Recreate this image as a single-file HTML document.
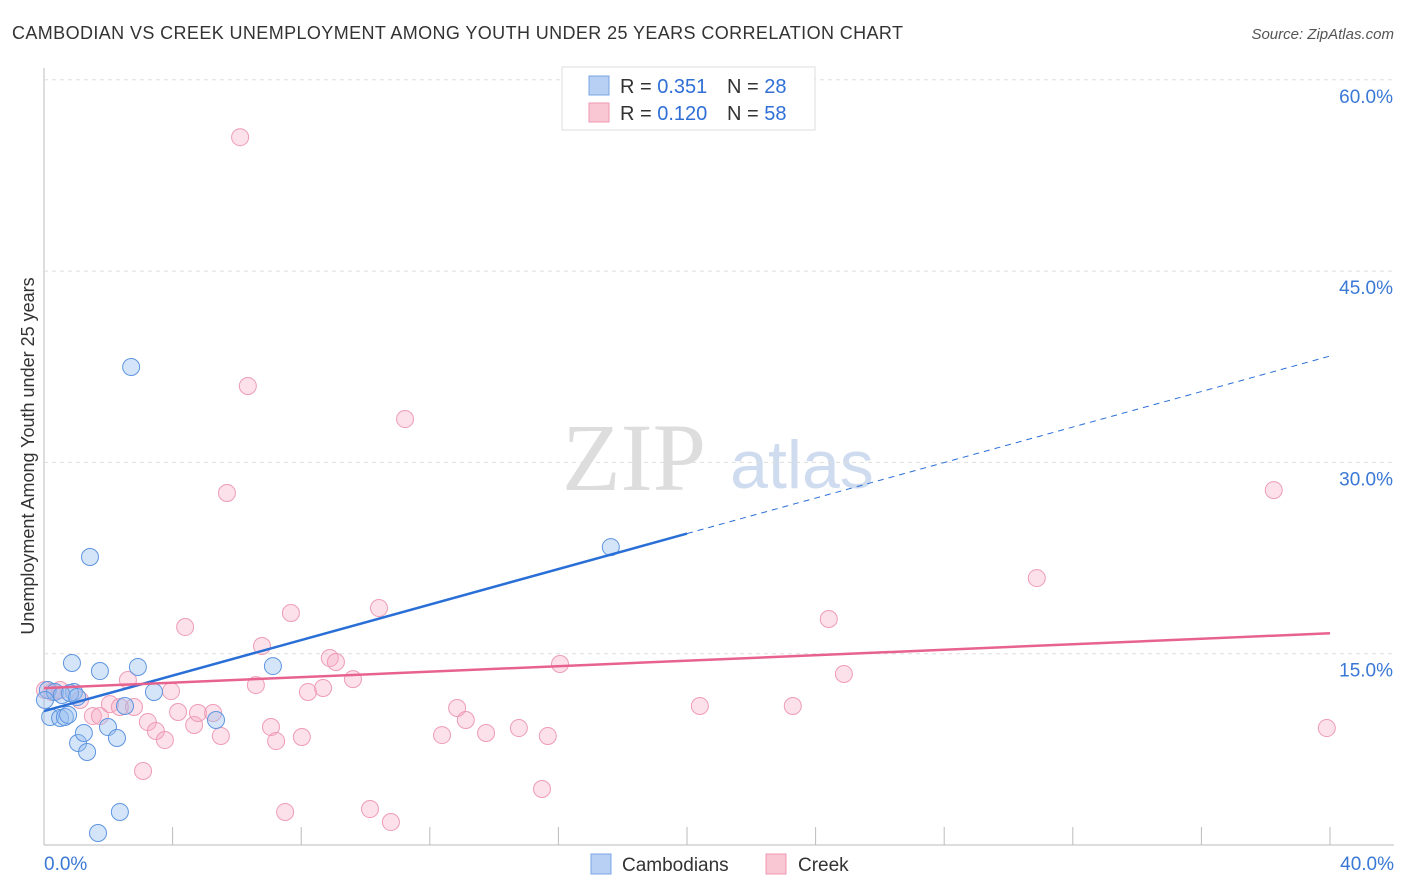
<!DOCTYPE html>
<html><head><meta charset="utf-8"><style>
body{margin:0;background:#fff;font-family:"Liberation Sans",sans-serif;}
svg{display:block}
</style></head><body>
<svg id="chart" width="1406" height="892">
<text x="12" y="39" font-size="18" fill="#333" textLength="891">CAMBODIAN VS CREEK UNEMPLOYMENT AMONG YOUTH UNDER 25 YEARS CORRELATION CHART</text>
<text x="1394" y="39" font-size="15" fill="#555" font-style="italic" text-anchor="end">Source: ZipAtlas.com</text>
<text x="0" y="0" transform="translate(34,456) rotate(-90)" font-size="18" fill="#333" text-anchor="middle">Unemployment Among Youth under 25 years</text>
<g><text x="634" y="490" font-size="96" fill="#ddd" font-family="Liberation Serif,serif" text-anchor="middle">ZIP</text><text x="802" y="488" font-size="68" fill="#cfdcef" text-anchor="middle">atlas</text></g>
<g id="grid"></g><g id="marks"></g>
<g>
<rect x="562" y="67" width="253" height="63" fill="#fff" stroke="#ddd"/>
<rect x="589" y="76" width="20" height="19" fill="#b7d0f3" stroke="#7aa6e6"/>
<rect x="589" y="103" width="20" height="19" fill="#f9c6d4" stroke="#ef9ab2"/>
<text x="620" y="93" font-size="20" fill="#333">R = <tspan fill="#2f6fd6">0.351</tspan><tspan x="727">N = </tspan><tspan fill="#2f6fd6">28</tspan></text>
<text x="620" y="120" font-size="20" fill="#333">R = <tspan fill="#2f6fd6">0.120</tspan><tspan x="727">N = </tspan><tspan fill="#2f6fd6">58</tspan></text>
</g>
<g>
<rect x="591" y="854" width="20" height="20" fill="#b7d0f3" stroke="#7aa6e6"/>
<text x="622" y="871" font-size="19" fill="#333">Cambodians</text>
<rect x="766" y="854" width="20" height="20" fill="#f9c6d4" stroke="#ef9ab2"/>
<text x="798" y="871" font-size="19" fill="#333">Creek</text>
</g>
</svg>
<script>
const xTicks=[4,8,12,16,20,24,28,32,36,40];
const yTicks=[15,30,45,60];
const blueX=[0.12,0.19,0.34,0.5,0.65,0.75,0.87,0.93,1.06,1.24,1.34,1.74,1.99,2.27,2.36,1.68,1.43,2.71,2.92,3.42,5.35,7.12,17.63,2.52,0.56,0.81,1.03,0.03];
const blueY=[12.15,10.04,12.0,9.96,10.04,10.2,14.27,12.0,8.0,8.78,7.29,13.64,9.25,8.39,2.59,0.94,22.58,37.48,13.96,12.0,9.8,14.03,23.36,10.9,11.76,11.92,11.6,11.37];
const pinkX=[0.03,0.25,0.5,1.12,1.52,1.74,2.05,2.36,2.61,2.8,3.08,3.23,3.48,3.76,3.95,4.17,4.39,4.67,4.79,5.26,5.5,5.69,6.1,6.34,6.59,6.78,7.06,7.22,7.5,7.68,8.02,8.21,8.68,8.89,9.08,9.61,10.14,10.42,10.79,11.23,12.38,12.85,13.12,13.75,14.77,15.49,15.67,16.05,20.4,23.29,24.41,24.88,30.88,38.25,39.9];
const pinkY=[12.15,12.0,12.15,11.37,10.11,10.11,11.05,10.82,12.94,10.82,5.8,9.64,8.94,8.23,12.07,10.43,17.09,9.41,10.35,10.35,8.55,27.6,55.5,35.99,12.54,15.6,9.25,8.15,2.59,18.19,8.47,12.0,12.31,14.66,14.35,13.01,2.82,18.58,1.8,33.4,8.62,10.74,9.8,8.78,9.17,4.39,8.55,14.19,10.9,10.9,17.72,13.41,20.93,27.83,9.17];
const blueLine=[10.5,0.696];
const pinkLine=[12.3,0.1075];
const X=v=>44+v/40*1286, Y=v=>845-v/15*191.3;
const NS="http://www.w3.org/2000/svg";
function mk(p,t,a){const e=document.createElementNS(NS,t);for(const k in a)e.setAttribute(k,a[k]);p.appendChild(e);return e;}
const g=document.getElementById('grid'), m=document.getElementById('marks');
let ax=mk(g,'line',{x1:44,y1:68,x2:44,y2:845,stroke:'#bbb'});


let bx=mk(g,'line',{x1:44,y1:845,x2:1394,y2:845,stroke:'#bbb'});


yTicks.forEach(t=>{
 let l=mk(g,'line',{x1:44,x2:1394,y1:Y(t),y2:Y(t),stroke:'#ddd','stroke-dasharray':'4,4'});
 
 
 let tx=mk(g,'text',{x:1393,y:Y(t)+23,'font-size':19,fill:'#3a78d6','text-anchor':'end'});tx.textContent=t.toFixed(1)+'%';
 
 
});
xTicks.forEach(t=>{
 let l=mk(g,'line',{x1:X(t),x2:X(t),y1:827,y2:845,stroke:'#bbb'});
 
 
});
[[0,'start',44],[40,'end',1394]].forEach(([t,a,px])=>{let tx=mk(g,'text',{x:px,y:870,'font-size':19,fill:'#3a78d6','text-anchor':a});tx.textContent=t.toFixed(1)+'%';
 
 });
pinkX.forEach((v,i)=>{let c=mk(m,'circle',{cx:X(v),cy:Y(pinkY[i]),r:8.5,fill:'rgba(246,170,195,0.35)',stroke:'#ee9cb5','stroke-width':1});
 
 });
blueX.forEach((v,i)=>{let c=mk(m,'circle',{cx:X(v),cy:Y(blueY[i]),r:8.5,fill:'rgba(150,190,240,0.4)',stroke:'#5e95e0','stroke-width':1});
 
 });
let bl=mk(m,'line',{x1:X(0),y1:Y(blueLine[0]),x2:X(20),y2:Y(blueLine[0]+20*blueLine[1]),stroke:'#2a6fd6','stroke-width':2.5});


let bd=mk(m,'line',{x1:X(20),y1:Y(blueLine[0]+20*blueLine[1]),x2:X(40),y2:Y(blueLine[0]+40*blueLine[1]),stroke:'#2a6fd6','stroke-width':1,'stroke-dasharray':'6,5'});


let pl=mk(m,'line',{x1:X(0),y1:Y(pinkLine[0]),x2:X(40),y2:Y(pinkLine[0]+40*pinkLine[1]),stroke:'#e8628f','stroke-width':2.5});


</script>
</body></html>
